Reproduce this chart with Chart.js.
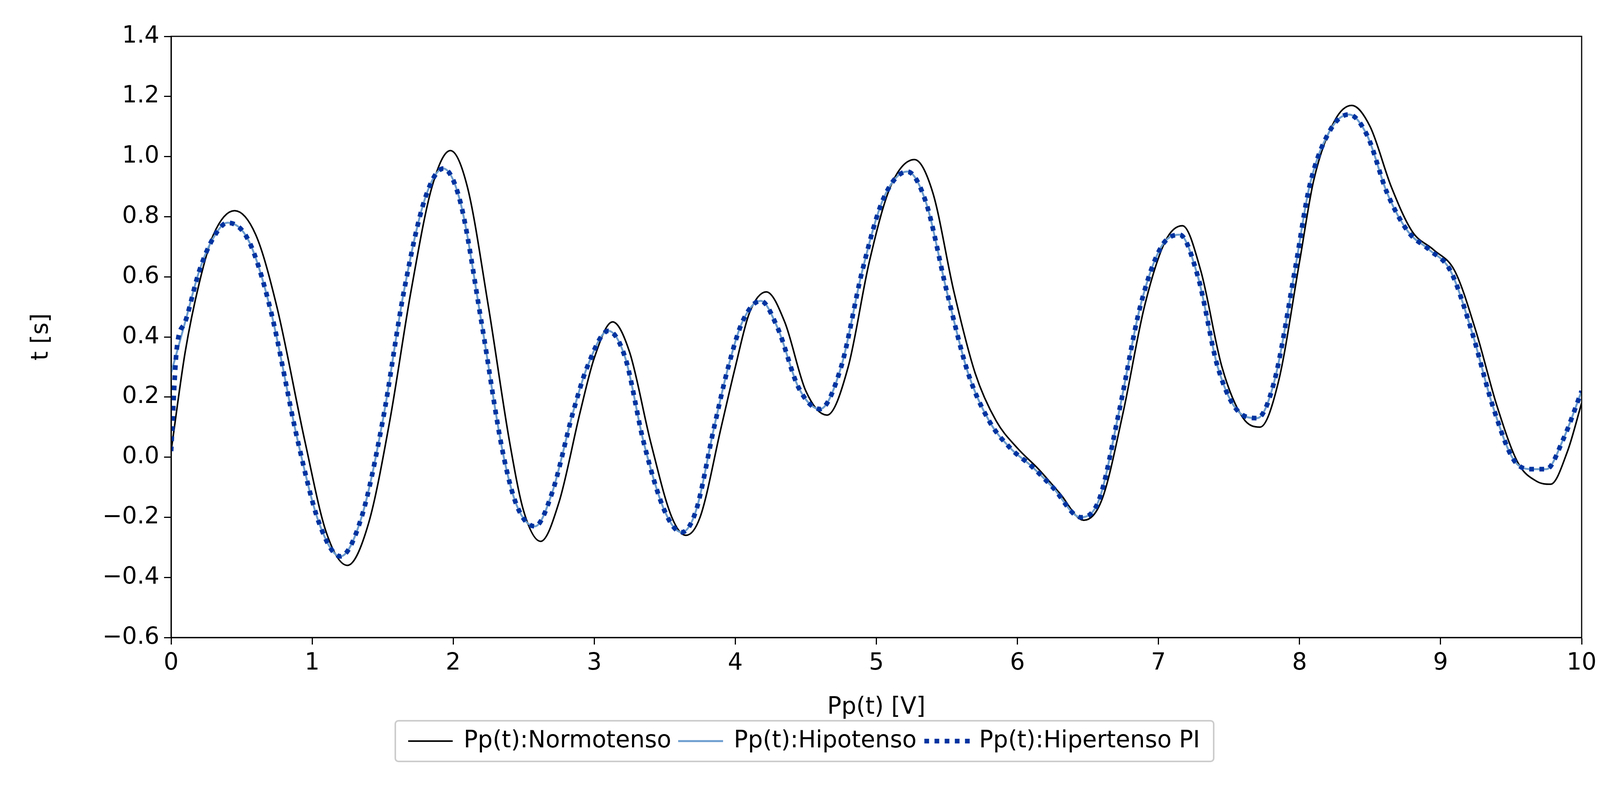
<!DOCTYPE html>
<html>
<head>
<meta charset="utf-8">
<script src="https://cdn.jsdelivr.net/npm/chart.js@4.4.0/dist/chart.umd.min.js"></script>
<style>
  html, body { margin: 0; padding: 0; background: #fff; }
  #wrap { width: 4142px; height: 2016px; }
</style>
</head>
<body>
<div id="wrap"><canvas id="myChart"></canvas></div>
<script>
var normX = [0,0.1,0.2,0.3,0.45,0.6,0.75,0.95,1.1,1.25,1.4,1.55,1.7,1.85,1.98,2.1,2.25,2.4,2.5,2.62,2.75,2.9,3.0,3.13,3.25,3.4,3.55,3.65,3.75,3.9,4.0,4.1,4.22,4.35,4.5,4.65,4.8,4.95,5.1,5.27,5.4,5.55,5.7,5.85,6.0,6.15,6.3,6.47,6.6,6.75,6.9,7.05,7.17,7.3,7.45,7.6,7.72,7.85,8.0,8.1,8.25,8.37,8.5,8.65,8.8,8.95,9.1,9.25,9.4,9.55,9.68,9.78,9.9,10];
var normY = [0.02,0.35,0.58,0.74,0.82,0.74,0.5,0.05,-0.25,-0.36,-0.22,0.12,0.55,0.9,1.02,0.9,0.5,0.05,-0.18,-0.28,-0.15,0.15,0.33,0.45,0.35,0.05,-0.2,-0.26,-0.2,0.1,0.3,0.48,0.55,0.45,0.22,0.14,0.3,0.65,0.9,0.99,0.88,0.55,0.28,0.12,0.03,-0.04,-0.12,-0.21,-0.14,0.15,0.5,0.72,0.77,0.62,0.3,0.13,0.1,0.25,0.65,0.92,1.12,1.17,1.1,0.9,0.75,0.69,0.62,0.42,0.17,-0.02,-0.08,-0.09,0.02,0.18];

var hipoX = [0,0.1,0.2,0.3,0.4,0.55,0.7,0.9,1.05,1.2,1.35,1.5,1.65,1.8,1.93,2.05,2.2,2.35,2.45,2.58,2.7,2.85,2.95,3.1,3.22,3.35,3.5,3.62,3.72,3.85,3.95,4.05,4.18,4.3,4.45,4.6,4.75,4.9,5.05,5.22,5.35,5.5,5.65,5.8,5.95,6.1,6.25,6.45,6.58,6.72,6.87,7.02,7.15,7.28,7.42,7.57,7.7,7.82,7.97,8.07,8.22,8.35,8.48,8.62,8.77,8.92,9.07,9.22,9.37,9.52,9.65,9.75,9.87,10];
var hipoY = [0.28,0.45,0.62,0.73,0.78,0.72,0.5,0.05,-0.22,-0.33,-0.2,0.12,0.55,0.86,0.96,0.85,0.45,0.02,-0.16,-0.23,-0.12,0.15,0.3,0.42,0.33,0.05,-0.18,-0.25,-0.18,0.1,0.3,0.45,0.52,0.43,0.23,0.16,0.3,0.62,0.86,0.95,0.85,0.55,0.28,0.12,0.03,-0.03,-0.1,-0.2,-0.14,0.15,0.5,0.7,0.74,0.6,0.3,0.15,0.13,0.25,0.63,0.9,1.09,1.14,1.07,0.88,0.75,0.69,0.62,0.42,0.17,-0.01,-0.04,-0.04,0.06,0.22];

var hiperX = [0,0.04].concat(hipoX.slice(1));
var hiperY = [0.02,0.36].concat(hipoY.slice(1));

var seriesNames = ['Pp(t):Normotenso', 'Pp(t):Hipotenso', 'Pp(t):Hipertenso PI'];

function pts(xs, ys) {
    return xs.map(function(x, i){ return {x: x, y: ys[i]}; });
}

var framePlugin = {
    id: 'frame',
    afterDraw: function(chart) {
        var c = chart.ctx, a = chart.chartArea, l = chart.legend;
        c.save();
        c.strokeStyle = '#000';
        c.lineWidth = 3;
        c.strokeRect(a.left, a.top, a.right - a.left, a.bottom - a.top);
        if (l.legendHitBoxes && l.legendHitBoxes.length) {
            var hb = l.legendHitBoxes;
            var x0 = hb[0].left - 35, x1 = hb[hb.length - 1].left + hb[hb.length - 1].width + 35;
            var y0 = hb[0].top - 22, y1 = hb[0].top + hb[0].height + 22;
            c.strokeStyle = '#cccccc';
            c.lineWidth = 4;
            c.beginPath();
            c.roundRect(x0, y0, x1 - x0, y1 - y0, 8);
            c.stroke();
        }
        c.restore();
    }
};

var font = {family: 'DejaVu Sans', size: 60};
var ctx = document.getElementById('myChart').getContext('2d');
var myChart = new Chart(ctx, {
    type: 'line',
    data: {
        datasets: [{
            label: seriesNames[0],
            data: pts(normX, normY),
            borderColor: '#000000',
            backgroundColor: '#000000',
            borderWidth: 4,
            order: 3
        }, {
            label: seriesNames[1],
            data: pts(hipoX, hipoY),
            borderColor: '#6d9dcf',
            backgroundColor: '#6d9dcf',
            borderWidth: 5,
            order: 2
        }, {
            label: seriesNames[2],
            data: pts(hiperX, hiperY),
            borderColor: '#0033a0',
            backgroundColor: '#0033a0',
            borderWidth: 12,
            borderDash: [12, 14],
            order: 1
        }]
    },
    options: {
        responsive: true,
        maintainAspectRatio: false,
        animation: false,
        devicePixelRatio: 1,
        layout: {padding: {top: 93, right: 93, bottom: 80, left: 70}},
        elements: {
            point: {radius: 0, hoverRadius: 0},
            line: {cubicInterpolationMode: 'monotone'}
        },
        plugins: {
            tooltip: {enabled: false},
            legend: {
                position: 'bottom',
                labels: {
                    color: '#000',
                    font: font,
                    boxWidth: 110,
                    boxHeight: 0.01,
                    padding: 20,
                    sort: function(a, b){ return a.datasetIndex - b.datasetIndex; }
                }
            }
        },
        scales: {
            x: {
                type: 'linear',
                min: 0, max: 10,
                ticks: {stepSize: 1, color: '#000', font: font, padding: 12},
                grid: {color: 'transparent', tickColor: '#000', tickLength: 18, tickWidth: 3},
                border: {color: '#000', width: 3},
                title: {display: true, text: 'Pp(t) [V]', color: '#000', font: font, padding: 0},
                afterFit: function(s){ s.height = 215; }
            },
            y: {
                min: -0.6, max: 1.4,
                ticks: {stepSize: 0.2, color: '#000', font: font, padding: 12,
                    callback: function(v){ return (v < 0 ? '\u2212' : '') + Math.abs(v).toFixed(1); }},
                grid: {color: 'transparent', tickColor: '#000', tickLength: 18, tickWidth: 3},
                border: {color: '#000', width: 3},
                title: {display: true, text: 't [s]', color: '#000', font: font, padding: 0},
                afterFit: function(s){ s.width = 368; }
            }
        }
    },
    plugins: [framePlugin]
});
</script>
</body>
</html>
